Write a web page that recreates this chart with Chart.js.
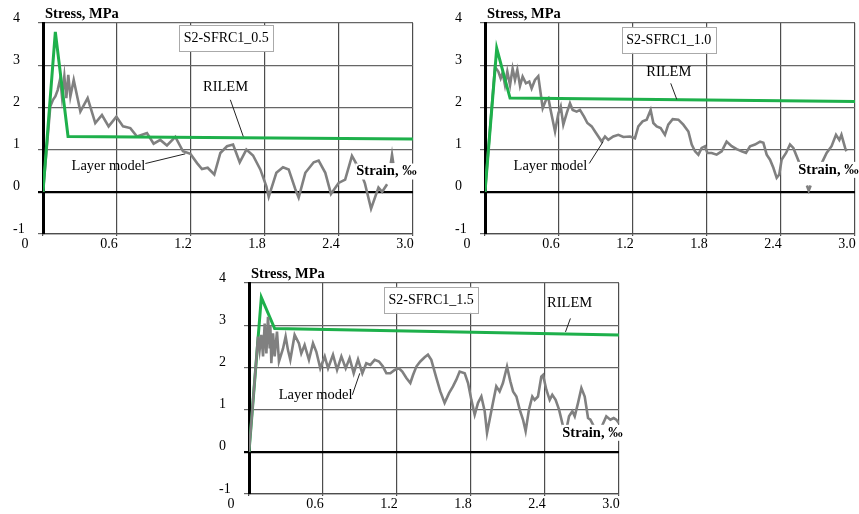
<!DOCTYPE html>
<html>
<head>
<meta charset="utf-8">
<script src="https://cdn.jsdelivr.net/npm/chart.js@4.4.0/dist/chart.umd.min.js"></script>
<style>
  html, body { margin: 0; padding: 0; background: #fff; }
  body { width: 859px; height: 514px; position: relative; overflow: hidden; }
  canvas { position: absolute; }
</style>
</head>
<body>
<canvas id="c1" width="430" height="260" style="left:0;top:0"></canvas>
<canvas id="c2" width="430" height="260" style="left:442px;top:0"></canvas>
<canvas id="c3" width="430" height="260" style="left:206px;top:260px"></canvas>
<script>
// axis ticks and labels
var xTicks = [0, 0.6, 1.2, 1.8, 2.4, 3.0];
var yTicks = [-1, 0, 1, 2, 3, 4];
var panelNames = ['S2-SFRC1_0.5', 'S2-SFRC1_1.0', 'S2-SFRC1_1.5'];
var yTitle = 'Stress, MPa';
var xTitle = 'Strain, \u2030';

// RILEM curves
var rilemStrain05 = [0, 0.10, 0.203, 3.0];
var rilemStress05 = [0, 3.79, 1.31, 1.25];
var rilemStrain10 = [0, 0.095, 0.203, 3.0];
var rilemStress10 = [0, 3.40, 2.22, 2.14];
var rilemStrain15 = [0, 0.10, 0.208, 3.0];
var rilemStress15 = [0, 3.66, 2.92, 2.77];

// Layer model curves
var layerStrain05 = [0, 0.059, 0.081, 0.10, 0.119, 0.14, 0.154, 0.173, 0.189, 0.205, 0.222, 0.249, 0.303, 0.362, 0.424, 0.478, 0.532, 0.595, 0.649, 0.708, 0.762, 0.843, 0.897, 0.951, 1.005, 1.073, 1.135, 1.195, 1.249, 1.289, 1.335, 1.389, 1.438, 1.492, 1.541, 1.595, 1.649, 1.703, 1.762, 1.811, 1.83, 1.892, 1.946, 1.992, 2.046, 2.073, 2.127, 2.195, 2.235, 2.289, 2.335, 2.397, 2.45, 2.505, 2.53, 2.56, 2.59, 2.61, 2.625, 2.66, 2.72, 2.75, 2.79, 2.805, 2.82, 2.83, 2.84];
var layerStress05 = [0, 2.02, 2.18, 2.26, 2.41, 2.69, 2.26, 2.74, 2.22, 2.77, 2.26, 2.65, 1.90, 2.22, 1.63, 1.82, 1.55, 1.78, 1.55, 1.51, 1.31, 1.39, 1.14, 1.23, 1.10, 1.30, 0.96, 0.90, 0.68, 0.54, 0.57, 0.41, 0.92, 1.08, 1.12, 0.70, 1.00, 0.86, 0.53, 0.13, -0.12, 0.45, 0.58, 0.53, 0.06, -0.14, 0.45, 0.70, 0.74, 0.45, -0.05, 0.21, 0.29, 0.85, 0.72, 0.55, 0.35, 0.20, 0.02, -0.40, 0.10, 0.0, 0.18, null, 0.68, 0.88, 0.68];

var layerStrain10 = [0, 0.081, 0.108, 0.127, 0.143, 0.162, 0.181, 0.203, 0.224, 0.243, 0.262, 0.284, 0.305, 0.332, 0.359, 0.378, 0.405, 0.432, 0.468, 0.495, 0.514, 0.532, 0.568, 0.595, 0.614, 0.635, 0.662, 0.689, 0.711, 0.743, 0.77, 0.803, 0.83, 0.865, 0.892, 0.919, 0.946, 0.973, 1.0, 1.04, 1.081, 1.122, 1.176, 1.216, 1.243, 1.278, 1.311, 1.343, 1.365, 1.392, 1.424, 1.459, 1.486, 1.522, 1.568, 1.608, 1.649, 1.676, 1.703, 1.73, 1.757, 1.784, 1.803, 1.838, 1.878, 1.919, 1.959, 2.0, 2.041, 2.081, 2.116, 2.149, 2.189, 2.23, 2.257, 2.284, 2.311, 2.338, 2.365, 2.386, 2.405, 2.441, 2.473, 2.5, 2.527, 2.549, 2.58, 2.61, 2.625, 2.64, 2.69, 2.73, 2.77, 2.81, 2.846, 2.873, 2.89, 2.92, 2.93];
var layerStress10 = [0, 2.96, 2.85, 2.69, 2.82, 2.53, 2.85, 2.53, 2.92, 2.65, 2.89, 2.51, 2.73, 2.57, 2.61, 2.45, 2.65, 2.74, 1.98, 2.18, 2.22, 1.94, 1.43, 1.86, 2.02, 1.59, 1.86, 2.10, 1.94, 1.90, 1.94, 1.78, 1.63, 1.55, 1.43, 1.31, 1.19, 1.31, 1.23, 1.31, 1.35, 1.30, 1.31, 1.27, 1.55, 1.67, 1.71, 1.94, 1.63, 1.55, 1.51, 1.35, 1.59, 1.72, 1.71, 1.59, 1.43, 1.12, 0.96, 0.88, 1.04, 1.08, 0.92, 0.92, 0.88, 0.96, 1.19, 1.08, 1.01, 0.96, 0.92, 1.08, 1.12, 1.19, 1.16, 0.88, 0.76, 0.57, 0.33, 0.41, 0.76, 0.92, 1.12, 1.04, 0.84, 0.68, null, 0.15, 0.03, 0.15, null, 0.68, 0.92, 1.08, 1.35, 1.23, 1.35, 1.04, 0.96];

var layerStrain15 = [0, 0.059, 0.073, 0.086, 0.10, 0.114, 0.127, 0.141, 0.154, 0.168, 0.173, 0.181, 0.195, 0.208, 0.227, 0.243, 0.276, 0.297, 0.316, 0.335, 0.37, 0.405, 0.424, 0.451, 0.486, 0.519, 0.546, 0.578, 0.614, 0.641, 0.681, 0.714, 0.749, 0.784, 0.816, 0.849, 0.884, 0.919, 0.951, 0.984, 1.019, 1.054, 1.086, 1.114, 1.146, 1.181, 1.216, 1.243, 1.276, 1.308, 1.33, 1.357, 1.389, 1.424, 1.451, 1.478, 1.519, 1.551, 1.586, 1.622, 1.654, 1.681, 1.708, 1.749, 1.776, 1.803, 1.83, 1.857, 1.884, 1.911, 1.93, 1.951, 1.978, 2.005, 2.032, 2.059, 2.092, 2.119, 2.141, 2.168, 2.195, 2.222, 2.243, 2.27, 2.297, 2.316, 2.343, 2.37, 2.384, 2.411, 2.438, 2.459, 2.486, 2.514, 2.546, 2.568, 2.595, 2.622, 2.641, 2.668, 2.695, 2.722, 2.749, 2.768, 2.795, 2.82, 2.84, 2.86, 2.897, 2.93, 2.957, 2.978, 3.0];
var layerStress15 = [0, 2.18, 2.73, 2.41, 2.77, 2.26, 3.04, 2.33, 3.20, 2.45, 2.99, 2.10, 2.81, 2.26, 2.85, 2.14, 2.45, 2.73, 2.41, 2.18, 2.77, 2.57, 2.33, 2.53, 2.18, 2.57, 2.37, 1.98, 2.26, 1.98, 2.30, 1.94, 2.26, 1.98, 2.22, 1.86, 2.19, 1.86, 2.10, 2.06, 2.18, 2.14, 2.02, 1.86, 1.86, 1.94, 1.98, 1.90, 1.75, 1.63, 1.82, 2.02, 2.14, 2.24, 2.30, 2.18, 1.75, 1.43, 1.16, 1.39, 1.55, 1.71, 1.90, 1.86, 1.63, 1.23, 0.88, 1.16, 1.31, 0.96, 0.45, 0.76, 1.16, 1.55, 1.43, 1.63, 2.02, 1.67, 1.43, 1.31, 1.0, 0.76, 0.49, 1.0, 1.31, 1.23, 1.31, 1.78, 1.82, 1.47, 1.23, 1.35, 1.23, 1.0, 0.61, 0.45, 0.84, 0.96, 0.84, 1.16, 1.51, 1.31, 0.80, 0.76, 0.61, 0.55, null, 0.60, 0.84, 0.76, 0.80, 0.76, 0.68];

var serif = '"Liberation Serif", "Times New Roman", serif';
Chart.defaults.font.family = serif;

function pts(xs, ys) {
	var out = [];
	for (var i = 0; i < xs.length; i++) out.push({ x: xs[i], y: ys[i] });
	return out;
}

// text labels drawn over each panel (positions in data units)
var notes = {
	id: 'notes',
	afterDraw: function (chart, args, p) {
		var ctx = chart.ctx, a = chart.chartArea;
		var sx = chart.scales.x, sy = chart.scales.y;
		function px(v) { return [sx.getPixelForValue(v[0]), sy.getPixelForValue(v[1])]; }
		ctx.save();
		ctx.textBaseline = 'middle';

		// axis titles
		ctx.font = 'bold 14.5px ' + serif;
		ctx.textAlign = 'left';
		ctx.fillStyle = '#000';
		ctx.fillText(yTitle, a.left + 2, a.top - 9);
		var s = px(p.strainAt);
		var w = ctx.measureText(xTitle).width;
		ctx.fillStyle = '#fff';
		ctx.fillRect(s[0] - 1, s[1] - 8, w + 2, 16);
		ctx.fillStyle = '#000';
		ctx.fillText(xTitle, s[0], s[1]);

		// origin label of the strain axis
		ctx.font = '14px ' + serif;
		ctx.textAlign = 'center';
		ctx.fillText('0', a.left - 18, a.bottom + 10.5);

		// specimen name box
		var b = px(p.nameAt);
		var bw = ctx.measureText(p.name).width + 9;
		ctx.fillStyle = '#fff';
		ctx.fillRect(b[0] - bw / 2, b[1] - 13, bw, 26);
		ctx.strokeStyle = '#aaa';
		ctx.lineWidth = 1;
		ctx.strokeRect(Math.round(b[0] - bw / 2) + 0.5, Math.round(b[1] - 13) + 0.5, Math.round(bw), 26);
		ctx.fillStyle = '#000';
		ctx.fillText(p.name, b[0], b[1]);

		// series labels with leader lines
		ctx.font = '14.5px ' + serif;
		ctx.strokeStyle = '#222';
		ctx.lineWidth = 1;
		[['RILEM', p.rilemAt, p.rilemLine], ['Layer model', p.layerAt, p.layerLine]].forEach(function (n) {
			var t = px(n[1]);
			ctx.fillText(n[0], t[0], t[1]);
			var l0 = px(n[2][0]), l1 = px(n[2][1]);
			ctx.beginPath();
			ctx.moveTo(l0[0], l0[1]);
			ctx.lineTo(l1[0], l1[1]);
			ctx.stroke();
		});
		ctx.restore();
	}
};

function makeChart(id, name, layer, rilem, greenOnTop, note) {
	note.name = name;
	return new Chart(document.getElementById(id), {
		type: 'line',
		data: {
			datasets: [
				{
					label: 'RILEM',
					data: rilem,
					borderColor: '#1eb04b',
					borderWidth: 3,
					pointRadius: 0,
					tension: 0,
					order: greenOnTop ? 0 : 1
				},
				{
					label: 'Layer model',
					data: layer,
					borderColor: '#808080',
					borderWidth: 2.6,
					pointRadius: 0,
					tension: 0,
					spanGaps: false,
					order: greenOnTop ? 1 : 0
				}
			]
		},
		options: {
			responsive: false,
			animation: false,
			layout: { padding: { left: 13, top: 23, right: 17, bottom: 0 } },
			plugins: {
				legend: { display: false },
				tooltip: { enabled: false },
				notes: note
			},
			scales: {
				x: {
					type: 'linear',
					min: 0,
					max: 3,
					afterBuildTicks: function (s) { s.ticks = xTicks.map(function (v) { return { value: v }; }); },
					afterFit: function (s) { s.height = 26; },
					ticks: {
						color: '#000',
						font: { size: 14 },
						padding: 0,
						labelOffset: -8,
						maxRotation: 0,
						autoSkip: false,
						callback: function (v) { return v === 0 ? '' : v.toFixed(1); }
					},
					grid: { color: '#4d4d4d', lineWidth: 1.2, tickLength: 2 },
					border: { color: '#4d4d4d', width: 1.2 }
				},
				y: {
					min: -1,
					max: 4,
					afterBuildTicks: function (s) { s.ticks = yTicks.map(function (v) { return { value: v }; }); },
					afterFit: function (s) { s.width = 30; },
					ticks: {
						color: '#000',
						font: { size: 14 },
						crossAlign: 'far',
						labelOffset: -5
					},
					grid: {
						color: function (c) { return c.tick && c.tick.value === 0 ? '#000' : '#666'; },
						lineWidth: function (c) { return c.tick && c.tick.value === 0 ? 2.2 : 1.2; },
						tickLength: 5
					},
					border: { color: '#000', width: 3 }
				}
			}
		},
		plugins: [notes]
	});
}

makeChart('c1', panelNames[0], pts(layerStrain05, layerStress05), pts(rilemStrain05, rilemStress05), true, {
	nameAt: [1.486, 3.64], strainAt: [2.54, 0.48],
	rilemAt: [1.48, 2.48], rilemLine: [[1.519, 2.18], [1.624, 1.31]],
	layerAt: [0.53, 0.60], layerLine: [[0.83, 0.67], [1.154, 0.90]]
});
makeChart('c2', panelNames[1], pts(layerStrain10, layerStress10), pts(rilemStrain10, rilemStress10), true, {
	nameAt: [1.49, 3.6], strainAt: [2.54, 0.52],
	rilemAt: [1.49, 2.84], rilemLine: [[1.506, 2.57], [1.555, 2.19]],
	layerAt: [0.53, 0.60], layerLine: [[0.845, 0.67], [0.958, 1.19]]
});
makeChart('c3', panelNames[2], pts(layerStrain15, layerStress15), pts(rilemStrain15, rilemStress15), false, {
	nameAt: [1.477, 3.6], strainAt: [2.54, 0.45],
	rilemAt: [2.6, 3.51], rilemLine: [[2.606, 3.16], [2.566, 2.84]],
	layerAt: [0.54, 1.33], layerLine: [[0.838, 1.35], [0.898, 1.86]]
});
</script>
</body>
</html>
